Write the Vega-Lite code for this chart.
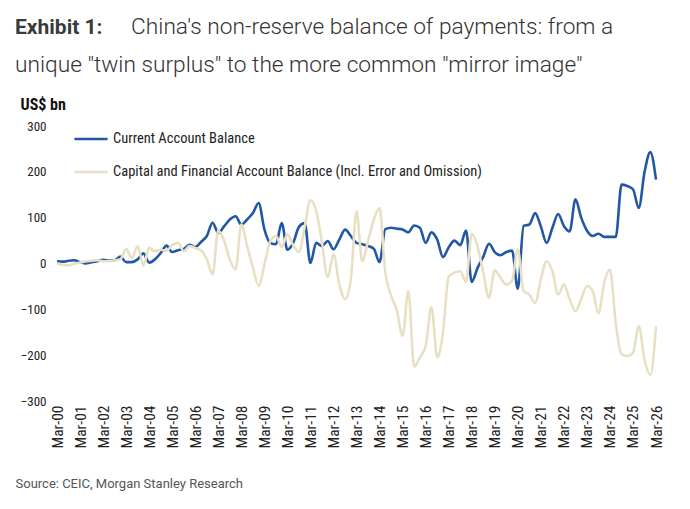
{
  "$schema": "https://vega.github.io/schema/vega-lite/v6.json",
  "width": 599,
  "height": 275,
  "autosize": {"type": "none"},
  "padding": {"left": 57, "top": 126, "right": 34, "bottom": 108},
  "background": "white",
  "config": {"view": {"stroke": null}},
  "title": {
    "text": "Exhibit 1:",
    "subtitle": ["\u200b\u00a0\u00a0\u00a0\u00a0\u00a0\u00a0\u00a0\u00a0\u00a0\u00a0\u00a0\u00a0\u00a0\u00a0\u00a0\u00a0\u00a0\u00a0\u00a0\u00a0\u00a0China's non-reserve balance of payments: from a", "unique \"twin surplus\" to the more common \"mirror image\""],
    "anchor": "start",
    "frame": "group",
    "dx": -42,
    "offset": 18,
    "font": "Roboto",
    "fontSize": 21,
    "fontWeight": "bold",
    "color": "#3a3a3a",
    "subtitleFont": "Roboto",
    "subtitleFontSize": 22.7,
    "subtitleFontWeight": 300,
    "subtitleColor": "#333333",
    "subtitleLineHeight": 38,
    "subtitlePadding": -22
  },
  "data": {
    "format": {"parse": {"d": "date:'%Y-%m'"}},
    "values": [
      {"d":"2000-03","ca":5,"ka":0},{"d":"2000-06","ca":4,"ka":-3},{"d":"2000-09","ca":6,"ka":-4},{"d":"2000-12","ca":7,"ka":0},
      {"d":"2001-03","ca":3,"ka":2},{"d":"2001-06","ca":0,"ka":5},{"d":"2001-09","ca":3,"ka":6},{"d":"2001-12","ca":5,"ka":7},
      {"d":"2002-03","ca":8,"ka":5},{"d":"2002-06","ca":6,"ka":5},{"d":"2002-09","ca":7,"ka":7},{"d":"2002-12","ca":15,"ka":9},
      {"d":"2003-03","ca":3,"ka":32},{"d":"2003-06","ca":3,"ka":12},{"d":"2003-09","ca":9,"ka":38},{"d":"2003-12","ca":22,"ka":-4},
      {"d":"2004-03","ca":2,"ka":34},{"d":"2004-06","ca":9,"ka":27},{"d":"2004-09","ca":23,"ka":30},{"d":"2004-12","ca":39,"ka":28},
      {"d":"2005-03","ca":25,"ka":40},{"d":"2005-06","ca":29,"ka":45},{"d":"2005-09","ca":32,"ka":27},{"d":"2005-12","ca":41,"ka":38},
      {"d":"2006-03","ca":36,"ka":34},{"d":"2006-06","ca":47,"ka":29},{"d":"2006-09","ca":60,"ka":9},{"d":"2006-12","ca":89,"ka":-24},
      {"d":"2007-03","ca":67,"ka":72},{"d":"2007-06","ca":81,"ka":50},{"d":"2007-09","ca":96,"ka":8},{"d":"2007-12","ca":103,"ka":-13},
      {"d":"2008-03","ca":85,"ka":85},{"d":"2008-06","ca":96,"ka":38},{"d":"2008-09","ca":110,"ka":-9},{"d":"2008-12","ca":132,"ka":-49},
      {"d":"2009-03","ca":75,"ka":-3},{"d":"2009-06","ca":45,"ka":48},{"d":"2009-09","ca":42,"ka":60},{"d":"2009-12","ca":88,"ka":36},
      {"d":"2010-03","ca":30,"ka":63},{"d":"2010-06","ca":45,"ka":40},{"d":"2010-09","ca":80,"ka":25},{"d":"2010-12","ca":88,"ka":80},
      {"d":"2011-03","ca":1,"ka":138},{"d":"2011-06","ca":45,"ka":115},{"d":"2011-09","ca":38,"ka":45},{"d":"2011-12","ca":49,"ka":-30},
      {"d":"2012-03","ca":31,"ka":20},{"d":"2012-06","ca":52,"ka":-45},{"d":"2012-09","ca":74,"ka":-78},{"d":"2012-12","ca":60,"ka":-35},
      {"d":"2013-03","ca":45,"ka":114},{"d":"2013-06","ca":42,"ka":5},{"d":"2013-09","ca":38,"ka":50},{"d":"2013-12","ca":32,"ka":96},
      {"d":"2014-03","ca":3,"ka":121},{"d":"2014-06","ca":75,"ka":-20},{"d":"2014-09","ca":78,"ka":-70},{"d":"2014-12","ca":76,"ka":-102},
      {"d":"2015-03","ca":74,"ka":-158},{"d":"2015-06","ca":68,"ka":-60},{"d":"2015-09","ca":83,"ka":-225},{"d":"2015-12","ca":78,"ka":-205},
      {"d":"2016-03","ca":45,"ka":-180},{"d":"2016-06","ca":68,"ka":-95},{"d":"2016-09","ca":52,"ka":-205},{"d":"2016-12","ca":14,"ka":-150},
      {"d":"2017-03","ca":35,"ka":-29},{"d":"2017-06","ca":50,"ka":-20},{"d":"2017-09","ca":40,"ka":-17},{"d":"2017-12","ca":72,"ka":-40},
      {"d":"2018-03","ca":-40,"ka":65},{"d":"2018-06","ca":-10,"ka":38},{"d":"2018-09","ca":15,"ka":-20},{"d":"2018-12","ca":43,"ka":-75},
      {"d":"2019-03","ca":25,"ka":-15},{"d":"2019-06","ca":18,"ka":-31},{"d":"2019-09","ca":25,"ka":-46},{"d":"2019-12","ca":28,"ka":-38},
      {"d":"2020-03","ca":-55,"ka":31},{"d":"2020-06","ca":82,"ka":-60},{"d":"2020-09","ca":85,"ka":-68},{"d":"2020-12","ca":110,"ka":-86},
      {"d":"2021-03","ca":81,"ka":-35},{"d":"2021-06","ca":45,"ka":5},{"d":"2021-09","ca":78,"ka":-17},{"d":"2021-12","ca":108,"ka":-68},
      {"d":"2022-03","ca":82,"ka":-46},{"d":"2022-06","ca":70,"ka":-78},{"d":"2022-09","ca":140,"ka":-104},{"d":"2022-12","ca":100,"ka":-78},
      {"d":"2023-03","ca":72,"ka":-49},{"d":"2023-06","ca":60,"ka":-60},{"d":"2023-09","ca":65,"ka":-109},{"d":"2023-12","ca":58,"ka":-42},
      {"d":"2024-03","ca":58,"ka":-13},{"d":"2024-06","ca":58,"ka":-130},{"d":"2024-09","ca":172,"ka":-198},{"d":"2024-12","ca":169,"ka":-202},
      {"d":"2025-03","ca":162,"ka":-195},{"d":"2025-06","ca":121,"ka":-137},{"d":"2025-09","ca":200,"ka":-210},{"d":"2025-12","ca":243,"ka":-243},
      {"d":"2026-03","ca":183,"ka":-137}
    ]
  },
  "encoding": {
    "x": {
      "field": "d",
      "type": "temporal",
      "scale": {"domain": [{"year": 2000, "month": 3, "date": 1}, {"year": 2026, "month": 3, "date": 1}], "padding": 0},
      "axis": {
        "values": [
          {"year":2000,"month":3,"date":1},{"year":2001,"month":3,"date":1},{"year":2002,"month":3,"date":1},{"year":2003,"month":3,"date":1},
          {"year":2004,"month":3,"date":1},{"year":2005,"month":3,"date":1},{"year":2006,"month":3,"date":1},{"year":2007,"month":3,"date":1},
          {"year":2008,"month":3,"date":1},{"year":2009,"month":3,"date":1},{"year":2010,"month":3,"date":1},{"year":2011,"month":3,"date":1},
          {"year":2012,"month":3,"date":1},{"year":2013,"month":3,"date":1},{"year":2014,"month":3,"date":1},{"year":2015,"month":3,"date":1},
          {"year":2016,"month":3,"date":1},{"year":2017,"month":3,"date":1},{"year":2018,"month":3,"date":1},{"year":2019,"month":3,"date":1},
          {"year":2020,"month":3,"date":1},{"year":2021,"month":3,"date":1},{"year":2022,"month":3,"date":1},{"year":2023,"month":3,"date":1},
          {"year":2024,"month":3,"date":1},{"year":2025,"month":3,"date":1},{"year":2026,"month":3,"date":1}
        ],
        "format": "%b-%y",
        "labelAngle": -90,
        "labelFont": "Roboto Condensed, Liberation Sans Narrow, DejaVu Sans Condensed, Roboto",
        "labelFontSize": 15.5,
        "labelColor": "#222222",
        "labelPadding": 4,
        "labelOverlap": false,
        "labelFlush": false,
        "domain": false,
        "ticks": false,
        "grid": false,
        "title": "Source: CEIC, Morgan Stanley Research",
        "titleFont": "Roboto",
        "titleFontSize": 13,
        "titleFontWeight": "normal",
        "titleColor": "#555555",
        "titleAlign": "left",
        "titleBaseline": "alphabetic",
        "titleX": -42,
        "titleY": 86
      }
    }
  },
  "layer": [
    {
      "mark": {"type": "rule", "color": "#808080", "strokeWidth": 2},
      "encoding": {
        "y": {"datum": 0, "type": "quantitative", "scale": {"domain": [-300, 300], "nice": false}}
      }
    },
    {
      "mark": {"type": "line", "strokeWidth": 2.6, "interpolate": "monotone"},
      "encoding": {
        "y": {
          "field": "ca", "type": "quantitative",
          "scale": {"domain": [-300, 300], "nice": false},
          "axis": {
            "values": [-300, -200, -100, 0, 100, 200, 300],
            "title": "US$ bn",
            "titleAngle": 0, "titleAlign": "left", "titleBaseline": "alphabetic",
            "titleX": -37, "titleY": -17,
            "titleFont": "Roboto Condensed, Liberation Sans Narrow, DejaVu Sans Condensed, Roboto",
            "titleFontSize": 16, "titleFontWeight": "bold", "titleColor": "#111111",
            "labelFont": "Roboto Condensed, Liberation Sans Narrow, DejaVu Sans Condensed, Roboto",
            "labelFontSize": 13, "labelColor": "#222222", "labelPadding": 11,
            "domain": false, "ticks": false, "grid": false
          }
        },
        "color": {
          "datum": "Current Account Balance",
          "type": "nominal",
          "scale": {
            "domain": ["Current Account Balance", "Capital and Financial Account Balance (Incl. Error and Omission)"],
            "range": ["#2257a5", "#e7e0c4"]
          },
          "legend": {
            "orient": "none", "legendX": 16, "legendY": -5,
            "title": null, "symbolType": "stroke", "symbolSize": 1100, "symbolStrokeWidth": 2.6,
            "labelFont": "Roboto Condensed, Liberation Sans Narrow, DejaVu Sans Condensed, Roboto",
            "labelFontSize": 14.5, "labelColor": "#222222", "labelLimit": 700, "labelOffset": 4,
            "rowPadding": 8
          }
        }
      }
    },
    {
      "mark": {"type": "line", "strokeWidth": 2.6, "interpolate": "monotone"},
      "encoding": {
        "y": {"field": "ka", "type": "quantitative"},
        "color": {"datum": "Capital and Financial Account Balance (Incl. Error and Omission)", "type": "nominal"}
      }
    }
  ]
}
